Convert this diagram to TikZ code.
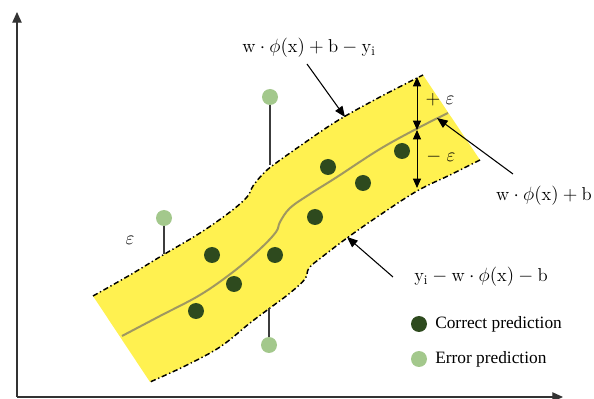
\documentclass[tikz,border=0pt]{standalone}
\usepackage{fontspec}
\newfontfamily\legendfont{Liberation Serif}
\usetikzlibrary{arrows.meta}
\definecolor{bandyellow}{RGB}{255,241,80}
\definecolor{okgreen}{RGB}{46,74,30}
\definecolor{errgreen}{RGB}{163,200,140}
\definecolor{midline}{RGB}{160,152,96}
\definecolor{stemgray}{RGB}{60,60,60}
\begin{document}
\begin{tikzpicture}[x=0.75pt,y=-0.75pt,
  axisline/.style={line width=0.9pt,draw=black!80,-{Triangle[length=8pt,width=7pt]}},
  bound/.style={line width=1.1pt,dash pattern=on 4pt off 2pt on 1pt off 2pt},
  okdot/.style={circle,fill=okgreen,minimum size=12pt,inner sep=0pt},
  errdot/.style={circle,fill=errgreen,minimum size=12pt,inner sep=0pt},
  stem/.style={line width=1.1pt,draw=stemgray},
  pointer/.style={line width=0.8pt,-{Triangle[length=8pt,width=6.5pt]}},
  epsarrow/.style={line width=0.7pt,{Triangle[length=7pt,width=6pt]}-{Triangle[length=7pt,width=6pt]}},
  mathlbl/.style={font=\fontsize{14}{16}\selectfont,inner sep=1pt},
  legendtxt/.style={font=\legendfont\fontsize{13}{15}\selectfont,anchor=west,inner sep=0pt}]
\useasboundingbox (0,0) rectangle (594,399);

% axes
\coordinate (origin) at (17,397);
\coordinate (ytip) at (17,12);
\coordinate (xtip) at (563,397);
\draw[axisline] (origin) -- (ytip);
\draw[axisline] (origin) -- (xtip);

% band fill
\fill[bandyellow]
  plot[smooth,tension=0.6] coordinates {(93,296) (130,275) (163,255) (200,233) (230,212) (247,197) (253,186) (262,175) (272,166) (300,146) (337,121) (380,97) (423,75)}
  -- (480,160)
  -- plot[smooth,tension=0.6] coordinates {(480,160) (450,175) (417,191) (377,217) (347,238) (322,257) (309,268) (305,279) (290,293) (270,308) (250,323) (220,347) (185,366) (150,382)}
  -- cycle;
% boundaries
\draw[bound] plot[smooth,tension=0.6] coordinates {(93,296) (130,275) (163,255) (200,233) (230,212) (247,197) (253,186) (262,175) (272,166) (300,146) (337,121) (380,97) (423,75)};
\draw[bound] plot[smooth,tension=0.6] coordinates {(480,160) (450,175) (417,191) (377,217) (347,238) (322,257) (309,268) (305,279) (290,293) (270,308) (250,323) (220,347) (185,366) (150,382)};
% regression line
\draw[midline,line width=1.5pt] plot[smooth,tension=0.6] coordinates {(122,336) (160,316) (200,295) (233,272) (260,249) (276,232) (280,222) (290,208) (310,194) (337,177) (380,149) (420,127) (448,113)};

% error points with stems
\node[errdot] (e1) at (270,97) {};
\coordinate (e1b) at (270,165);
\draw[stem] (e1) -- (e1b);
\node[errdot] (e2) at (164,218) {};
\coordinate (e2b) at (164,254);
\draw[stem] (e2) -- (e2b);
\node[errdot] (e3) at (269,345) {};
\coordinate (e3b) at (269,308);
\draw[stem] (e3) -- (e3b);

% correct points
\node[okdot] (c1) at (196,311) {};
\node[okdot] (c2) at (234,284) {};
\node[okdot] (c3) at (212,255) {};
\node[okdot] (c4) at (275,255) {};
\node[okdot] (c5) at (315,217) {};
\node[okdot] (c6) at (328,167) {};
\node[okdot] (c7) at (363,183) {};
\node[okdot] (c8) at (402,151) {};

% epsilon arrows
\coordinate (epsT) at (417,77);
\coordinate (epsM) at (417,130);
\coordinate (epsB) at (417,188);
\draw[epsarrow] (epsT) -- (epsM);
\draw[epsarrow] (epsM) -- (epsB);
\node[mathlbl] (plus) at (440,100) {$+\;\varepsilon$};
\node[mathlbl] (minus) at (441,157) {$-\;\varepsilon$};
\node[mathlbl] (epsl) at (130,240) {$\varepsilon$};

% labels and pointers
\node[mathlbl] (toplbl) at (309,48) {$\mathrm{w}\cdot\phi(\mathrm{x})+\mathrm{b}-\mathrm{y_i}$};
\coordinate (topstart) at (307,64);
\coordinate (topend) at (345,117);
\draw[pointer] (topstart) -- (topend);

\node[mathlbl] (midlbl) at (544,196) {$\mathrm{w}\cdot\phi(\mathrm{x})+\mathrm{b}$};
\coordinate (midstart) at (513,174);
\coordinate (midend) at (437,118);
\draw[pointer] (midstart) -- (midend);

\node[mathlbl] (botlbl) at (481,277) {$\mathrm{y_i}-\mathrm{w}\cdot\phi(\mathrm{x})-\mathrm{b}$};
\coordinate (botstart) at (393,277);
\coordinate (botend) at (347,237);
\draw[pointer] (botstart) -- (botend);

% legend
\node[okdot] (lg1) at (419,324) {};
\node[legendtxt] (lg1t) at (435,324) {Correct prediction};
\node[errdot] (lg2) at (419,359) {};
\node[legendtxt] (lg2t) at (435,359) {Error prediction};
\end{tikzpicture}
\end{document}
